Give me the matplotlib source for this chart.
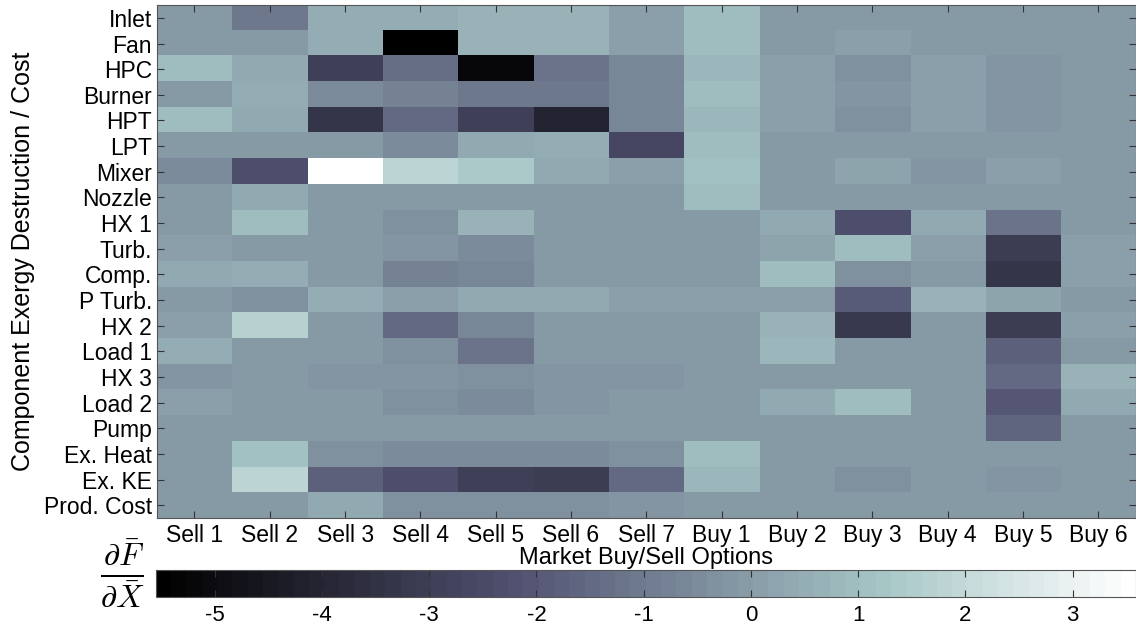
import numpy as np
import matplotlib
matplotlib.use("Agg")
import matplotlib.pyplot as plt

# component rows (top to bottom) and market options (columns)
components = ["Inlet", "Fan", "HPC", "Burner", "HPT", "LPT", "Mixer", "Nozzle",
              "HX 1", "Turb.", "Comp.", "P Turb.", "HX 2", "Load 1", "HX 3",
              "Load 2", "Pump", "Ex. Heat", "Ex. KE", "Prod. Cost"]
options = ["Sell 1", "Sell 2", "Sell 3", "Sell 4", "Sell 5", "Sell 6", "Sell 7",
           "Buy 1", "Buy 2", "Buy 3", "Buy 4", "Buy 5", "Buy 6"]

# dF/dX sensitivities, one list per component (columns follow `options`)
inlet   = [0.0, -1.1, 0.45, 0.45, 0.6, 0.6, 0.15, 0.9, -0.1, 0.0, -0.1, -0.1, -0.1]
fan     = [-0.05, -0.1, 0.45, -5.55, 0.6, 0.6, 0.15, 0.9, -0.1, 0.05, -0.1, -0.1, -0.1]
hpc     = [0.95, 0.4, -2.9, -1.4, -5.2, -1.2, -0.6, 0.75, 0.05, -0.35, 0.05, -0.15, -0.1]
burner  = [-0.05, 0.55, -0.55, -0.8, -1.1, -1.1, -0.6, 0.9, 0.05, -0.2, 0.05, -0.15, -0.1]
hpt     = [0.95, 0.4, -3.3, -1.45, -2.9, -4.0, -0.6, 0.75, 0.05, -0.35, 0.05, -0.15, -0.1]
lpt     = [0.0, 0.0, -0.1, -0.45, 0.4, 0.45, -2.6, 0.9, -0.1, -0.1, -0.1, -0.1, -0.1]
mixer   = [-0.45, -2.3, 3.59, 1.85, 1.4, 0.35, 0.05, 1.1, -0.1, 0.25, -0.2, 0.05, -0.05]
nozzle  = [-0.1, 0.35, 0.0, 0.0, 0.0, 0.0, 0.0, 0.9, -0.1, -0.1, -0.1, -0.1, -0.1]
hx1     = [-0.1, 1.0, -0.1, -0.4, 0.6, -0.1, -0.1, -0.1, 0.35, -2.3, 0.35, -1.15, 0.0]
turb    = [0.05, -0.1, -0.1, -0.25, -0.45, -0.1, -0.1, -0.05, 0.3, 1.0, 0.05, -3.0, 0.05]
comp    = [0.35, 0.55, -0.1, -0.7, -0.65, -0.1, -0.1, 0.0, 0.9, -0.4, -0.05, -3.3, 0.15]
p_turb  = [-0.05, -0.35, 0.45, 0.05, 0.35, 0.35, 0.15, 0.15, 0.05, -1.9, 0.6, 0.2, -0.1]
hx2     = [0.15, 1.65, -0.1, -1.5, -0.65, -0.1, -0.1, 0.0, 0.6, -3.2, -0.1, -3.0, 0.15]
load1   = [0.45, -0.1, -0.1, -0.4, -1.15, -0.1, -0.1, 0.0, 0.85, -0.1, -0.1, -1.75, 0.0]
hx3     = [-0.15, -0.05, -0.2, -0.2, -0.3, -0.2, -0.2, 0.0, -0.1, 0.0, -0.1, -1.45, 0.6]
load2   = [0.15, 0.0, -0.1, -0.35, -0.45, -0.15, -0.1, 0.0, 0.35, 0.95, -0.1, -2.1, 0.35]
pump    = [-0.05, -0.05, -0.05, -0.05, -0.05, -0.05, -0.05, -0.05, -0.05, -0.05, -0.05, -1.65, -0.05]
ex_heat = [-0.1, 1.15, -0.35, -0.45, -0.55, -0.55, -0.35, 0.9, -0.1, -0.1, -0.1, -0.1, -0.1]
ex_ke   = [-0.1, 1.75, -1.75, -2.3, -2.85, -3.0, -1.5, 0.75, 0.0, -0.4, 0.0, -0.15, -0.1]
prod    = [0.0, -0.05, 0.35, -0.35, -0.4, -0.35, -0.25, 0.0, -0.1, -0.1, -0.1, -0.1, -0.1]

data = np.array([inlet, fan, hpc, burner, hpt, lpt, mixer, nozzle, hx1, turb,
                 comp, p_turb, hx2, load1, hx3, load2, pump, ex_heat, ex_ke, prod])

plt.rcParams['font.family'] = ['Liberation Sans', 'DejaVu Sans']
plt.rcParams['mathtext.fontset'] = 'cm'
plt.rcParams['axes.unicode_minus'] = False

fig = plt.figure(figsize=(11.36, 6.28), dpi=100)
ax = fig.add_axes([0.138, 0.175, 0.862, 0.817])
cmap = plt.get_cmap('bone', 64)

im = ax.imshow(data, cmap=cmap, aspect='auto', interpolation='nearest')
ax.set_xticks(np.arange(len(options)))
ax.set_xticklabels(options, fontsize=16.5)
ax.set_yticks(np.arange(len(components)))
ax.set_yticklabels(components, fontsize=16.5)
ax.tick_params(axis='x', pad=4)
ax.tick_params(direction='in', top=True, right=True, length=5, width=0.8,
               color='#333333')
ax.set_xlabel("Market Buy/Sell Options", fontsize=17, labelpad=0)
ax.set_ylabel("Component Exergy Destruction / Cost", fontsize=18, labelpad=6)
for s in ax.spines.values():
    s.set_color('#555555')

cax = fig.add_axes([0.137, 0.050, 0.863, 0.043])
cb = fig.colorbar(im, cax=cax, orientation='horizontal', ticks=np.arange(-5, 4))
cb.ax.tick_params(direction='in', top=True, bottom=True, length=5, labelsize=16,
                  color='#333333', pad=6)
cb.outline.set_edgecolor('#555555')
fig.text(0.108, 0.088, r"$\frac{\partial \bar{F}}{\partial \bar{X}}$", fontsize=33,
         ha='center', va='center')

fig.savefig("out.png", dpi=100)
